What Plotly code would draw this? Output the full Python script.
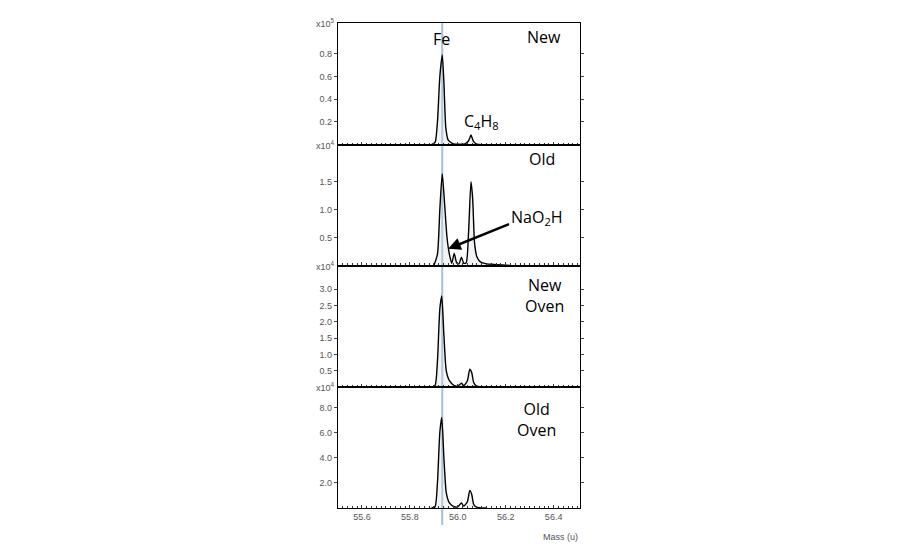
import plotly.graph_objects as go

x_new = [55.89,55.905,55.915,55.925,55.935,55.942,55.95,55.96,55.975,55.99,56.01,56.03,56.045,56.055,56.065,56.08,56.10]
y_new = [0,0.02,0.2,0.6,0.79,0.55,0.15,0.04,0.015,0.005,0.005,0.008,0.035,0.085,0.03,0.005,0]

x_old = [55.90,55.915,55.925,55.935,55.945,55.955,55.965,55.975,55.985,55.995,56.005,56.015,56.025,56.035,56.045,56.055,56.062,56.07,56.08,56.09,56.10,56.12,56.15,56.22]
y_old = [0,0.2,1.0,1.64,1.1,0.5,0.2,0.04,0.22,0.05,0.03,0.15,0.04,0.05,0.6,1.5,1.2,0.4,0.15,0.08,0.05,0.03,0.02,0]

x_newoven = [55.89,55.905,55.915,55.925,55.933,55.942,55.952,55.965,55.985,56.0,56.015,56.025,56.04,56.05,56.058,56.066,56.075,56.09,56.14]
y_newoven = [0,0.05,0.8,2.4,2.8,1.6,0.5,0.2,0.05,0.04,0.12,0.05,0.2,0.55,0.45,0.15,0.05,0.02,0]

x_oldoven = [55.89,55.905,55.915,55.925,55.933,55.942,55.952,55.965,55.985,56.0,56.015,56.025,56.04,56.05,56.058,56.066,56.075,56.09,56.12]
y_oldoven = [0,0.1,2.0,6.0,7.2,4.0,1.2,0.4,0.1,0.1,0.4,0.15,0.5,1.4,1.1,0.3,0.1,0.03,0]

panels = [
    (x_new, y_new, [0, 1.07], [0.2,0.4,0.6,0.8], ["0.2","0.4","0.6","0.8"], "5"),
    (x_old, y_old, [0, 2.16], [0.5,1.0,1.5], ["0.5","1.0","1.5"], "4"),
    (x_newoven, y_newoven, [0, 3.73], [0.5,1.0,1.5,2.0,2.5,3.0], ["0.5","1.0","1.5","2.0","2.5","3.0"], "4"),
    (x_oldoven, y_oldoven, [0, 9.6], [2,4,6,8], ["2.0","4.0","6.0","8.0"], "4"),
]
domains = [[0.749,1.0],[0.5,0.749],[0.249,0.5],[0.0,0.249]]

fig = go.Figure()
for i,(xs,ys,rng,tv,tt,exp) in enumerate(panels):
    n = i+1
    xa = "x" if n==1 else f"x{n}"
    ya = "y" if n==1 else f"y{n}"
    fig.add_trace(go.Scatter(x=xs, y=ys, mode="lines", fill="tozeroy",
        fillcolor="rgba(210,215,225,0.3)", line=dict(color="black", width=1.4, shape="spline", smoothing=0.6),
        xaxis=xa, yaxis=ya, showlegend=False))
    axkw = dict(range=[55.5,56.51], showline=True, linecolor="black", linewidth=1.2, mirror=True,
                ticks="inside", ticklen=3, tickwidth=1, dtick=0.2, tick0=55.6, tickformat=".1f",
                showgrid=False, zeroline=False,
                minor=dict(ticks="inside", ticklen=2, dtick=0.02, tickcolor="#333", tickwidth=0.8),
                tickfont=dict(size=9, color="#555", family="Arial"), anchor=ya,
                showticklabels=(n==4))
    if n>1:
        axkw["matches"] = "x"
    fig.update_layout(**{("xaxis" if n==1 else f"xaxis{n}"): axkw})
    fig.update_layout(**{("yaxis" if n==1 else f"yaxis{n}"): dict(
        domain=domains[i], range=rng, tickvals=tv, ticktext=tt, showline=True, linecolor="black",
        linewidth=1.2, mirror="ticks", ticks="outside", ticklen=3, showgrid=False, zeroline=False,
        tickfont=dict(size=9, color="#555", family="Arial"), anchor=xa)})
    fig.add_annotation(text=f"x10<sup>{exp}</sup>", xref="paper", yref="paper", x=0, y=domains[i][1],
                       xanchor="right", yanchor="middle", showarrow=False, xshift=-1,
                       font=dict(size=9, color="#555", family="Arial"))

fig.add_shape(type="line", xref="x", yref="paper", x0=55.935, x1=55.935, y0=-0.035, y1=1,
              line=dict(color="#a8c0d4", width=2), layer="below")

lf = dict(size=16, color="black", family="Open Sans")
def txt(t, x, y, yref="y", xa="x"):
    fig.add_annotation(text=t, x=x, y=y, xref=xa, yref=yref, showarrow=False, font=lf)
txt("Fe", 55.93, 0.93)
txt("New", 56.36, 0.95)
txt("C<sub>4</sub>H<sub>8</sub>", 56.1, 0.2)
txt("Old", 56.35, 1.9, "y2", "x2")
txt("NaO<sub>2</sub>H", 56.33, 0.85, "y2", "x2")
fig.add_annotation(x=55.96, y=0.3, ax=56.22, ay=0.75, xref="x2", yref="y2", axref="x2", ayref="y2",
                   showarrow=True, arrowhead=2, arrowsize=1, arrowwidth=2.5, arrowcolor="black", text="")
txt("New<br>Oven", 56.36, 2.8, "y3", "x3")
txt("Old<br>Oven", 56.33, 7.0, "y4", "x4")
fig.add_annotation(text="Mass (u)", xref="paper", yref="paper", x=1, y=-0.075, xanchor="right",
                   showarrow=False, font=dict(size=9, color="#555", family="Arial"))

fig.update_layout(width=900, height=550, margin=dict(l=330, r=328, t=15, b=50, autoexpand=False),
                  plot_bgcolor="white", paper_bgcolor="white")
fig.write_html("out.html")
